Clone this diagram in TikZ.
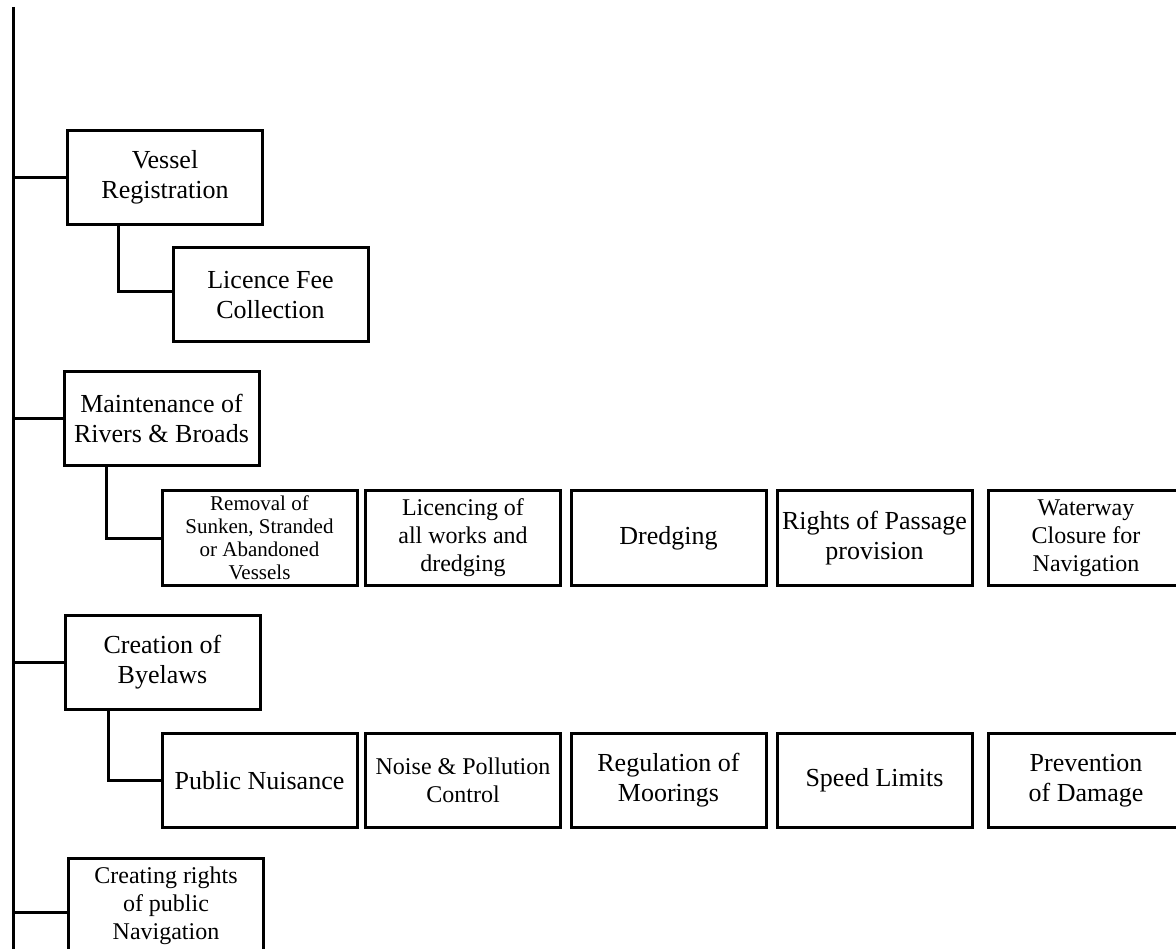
\documentclass[tikz,border=0pt]{standalone}
\usepackage{fontspec}
\setmainfont{Liberation Serif}
\newcommand\txtL{\fontsize{26}{30}\selectfont}
\newcommand\txtM{\fontsize{24}{28}\selectfont}
\newcommand\txtS{\fontsize{21}{23}\selectfont}
\begin{document}
\begin{tikzpicture}[x=1pt,y=-1pt,
  box/.style={draw, line width=3pt, rectangle, minimum width=195pt,
    minimum height=94pt, inner sep=0pt, align=center, font=\txtL},
  link/.style={line width=3pt}]
\path[use as bounding box, clip] (0,0) rectangle (1176,949);
\fill[white] (0,0) rectangle (1176,949);

% main trunk
\coordinate (ttop) at (13,7);
\coordinate (tbot) at (13,949);
\draw[link] (ttop) -- (tbot);

% first-level functions
\node[box] (vessel) at (165,177.5) {Vessel\\Registration};
\node[box] (maint)  at (161.5,418.5) {Maintenance of\\Rivers \& Broads};
\node[box] (byelaw) at (162.5,662) {Creation of\\Byelaws};
\node[box, font=\txtM] (rights) at (166,905.5) {Creating rights\\of public\\Navigation};

% vessel registration branch
\node[box] (fee) at (270.5,295) {Licence Fee\\Collection};

% maintenance branch
\node[box, font=\txtS] (m1) at (259.5,538) {Removal of\\Sunken, Stranded\\or Abandoned\\Vessels};
\node[box, font=\txtM] (m2) at (463,538) {Licencing of\\all works and\\dredging};
\node[box] (m3) at (668.5,538) {Dredging};
\node[box] (m4) at (874.5,538) {Rights of Passage\\provision};
\node[box, font=\txtM] (m5) at (1086,538) {Waterway\\Closure for\\Navigation};

% byelaws branch
\node[box] (b1) at (259.5,780.5) {Public Nuisance};
\node[box, font=\txtM] (b2) at (463,780.5) {Noise \& Pollution\\Control};
\node[box] (b3) at (668.5,780.5) {Regulation of\\Moorings};
\node[box] (b4) at (874.5,780.5) {Speed Limits};
\node[box] (b5) at (1086,780.5) {Prevention\\of Damage};

% connectors to the trunk
\draw[link] (vessel.west) -- (vessel.west -| ttop);
\draw[link] (maint.west)  -- (maint.west -| ttop);
\draw[link] (byelaw.west) -- (byelaw.west -| ttop);
\draw[link] ([yshift=-7pt]rights.west) -- ([yshift=-7pt]rights.west -| ttop);

% connectors to the sub-functions
\draw[link] ([xshift=52pt]vessel.south west) |- ([yshift=3pt]fee.west);
\draw[link] ([xshift=44pt]maint.south west) |- (m1.west);
\draw[link] ([xshift=45pt]byelaw.south west) |- (b1.west);
\end{tikzpicture}
\end{document}
